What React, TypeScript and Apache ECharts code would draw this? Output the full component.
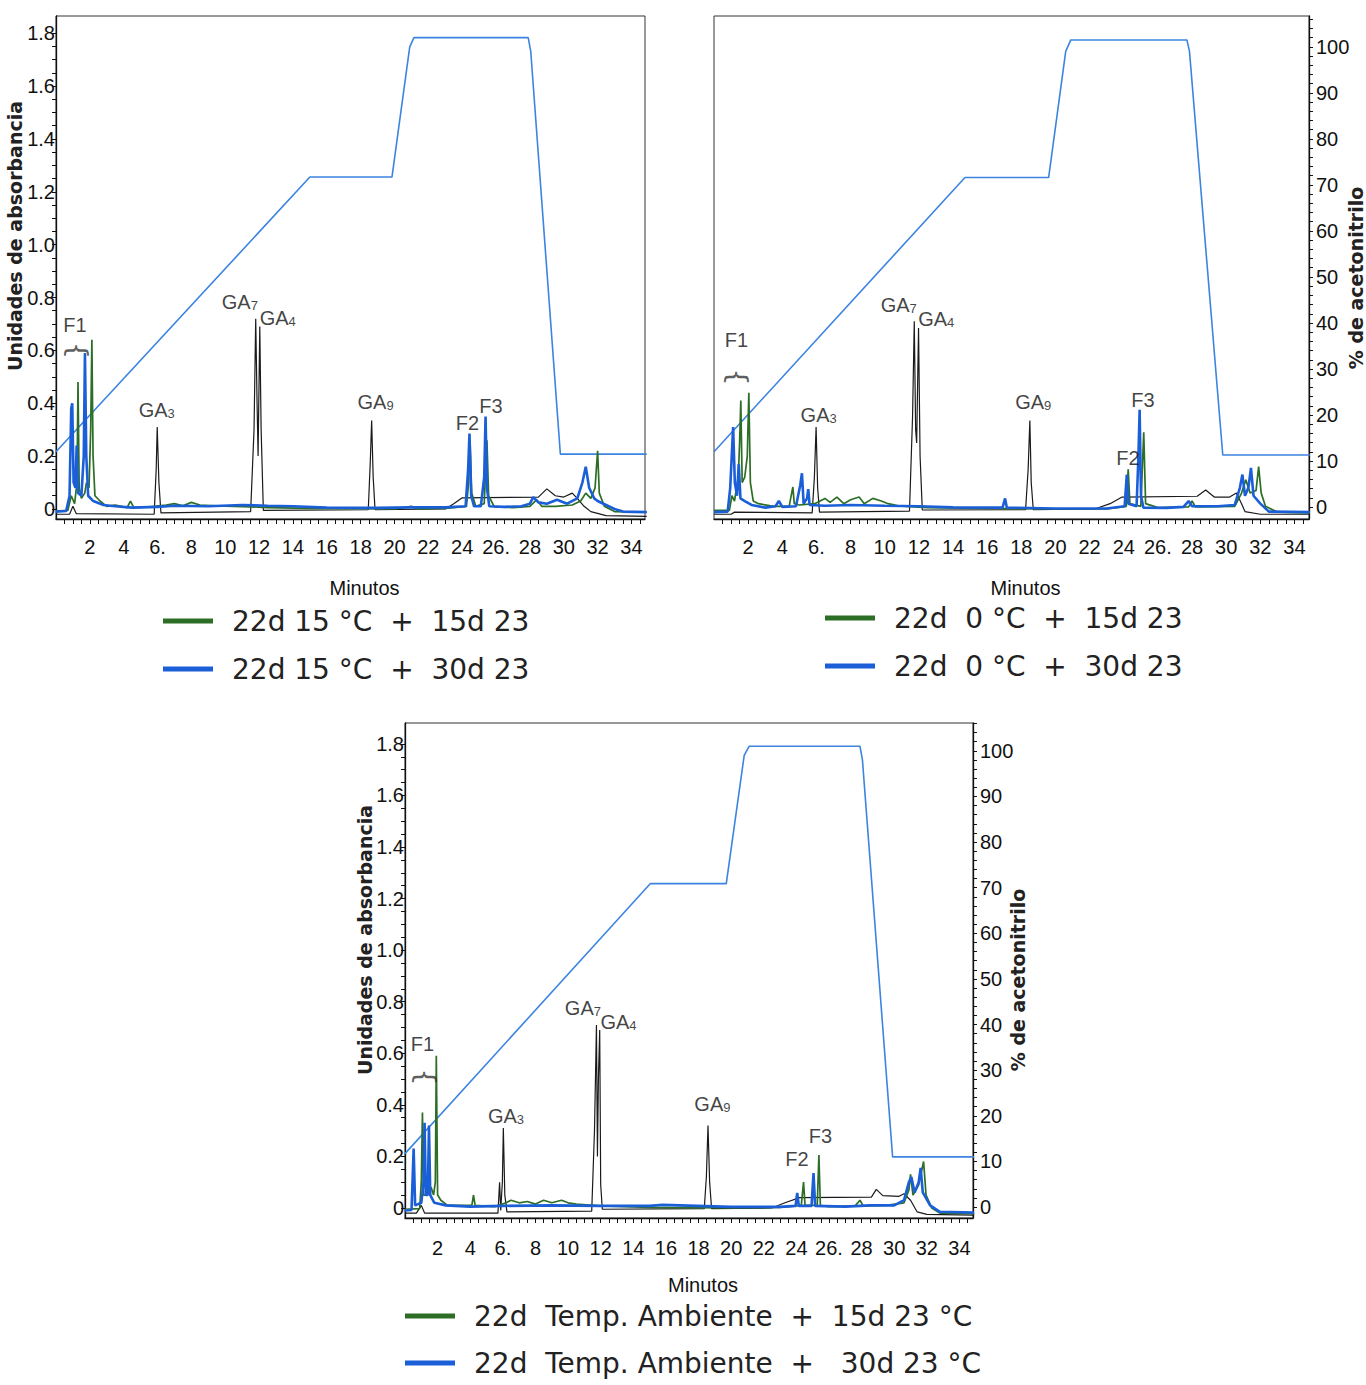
import React, { useEffect, useRef } from 'react';
import * as echarts from 'echarts';

const NARROW = "'Liberation Sans Narrow', 'Arial Narrow', 'Liberation Sans', sans-serif";
const WIDE = "'DejaVu Sans', 'Liberation Sans', sans-serif";

// ---- axis ticks / labels ----
const X_TICKS = [2, 4, 6, 8, 10, 12, 14, 16, 18, 20, 22, 24, 26, 28, 30, 32, 34];
const X_TICK_LABELS = ['2', '4', '6.', '8', '10', '12', '14', '16', '18', '20', '22', '24', '26.', '28', '30', '32', '34'];
const ABS_TICKS = [0, 0.2, 0.4, 0.6, 0.8, 1.0, 1.2, 1.4, 1.6, 1.8];
const ABS_TICK_LABELS = ['0', '0.2', '0.4', '0.6', '0.8', '1.0', '1.2', '1.4', '1.6', '1.8'];
const ACN_TICKS = [0, 10, 20, 30, 40, 50, 60, 70, 80, 90, 100];
const ACN_TICK_LABELS = ['0', '10', '20', '30', '40', '50', '60', '70', '80', '90', '100'];
const X_MINOR = Array.from({ length: 69 }, (_, i) => (i + 1) * 0.5);
const ABS_MINOR = Array.from({ length: 37 }, (_, i) => Math.round(i * 5) / 100);
const ACN_MINOR = Array.from({ length: 54 }, (_, i) => i * 2);

// ---- legend names ----
const TL_NAMES = ['22d 15 °C  +  15d 23', '22d 15 °C  +  30d 23'];
const TR_NAMES = ['22d  0 °C  +  15d 23', '22d  0 °C  +  30d 23'];
const BT_NAMES = ['22d  Temp. Ambiente  +  15d 23 °C', '22d  Temp. Ambiente  +   30d 23 °C'];

// ---- gradient (% acetonitrilo) ----
const TL_GRAD = [[0, 12], [15.0, 71.7], [19.85, 71.7], [20.9, 100], [21.15, 102], [27.9, 102], [28.05, 99], [29.8, 11.5], [34.9, 11.5]];
const TR_GRAD = [[0, 12], [14.7, 71.6], [19.6, 71.6], [20.6, 99], [20.9, 101.5], [27.7, 101.5], [27.85, 99], [29.8, 11.3], [34.9, 11.3]];
const BT_GRAD = [[0, 11.7], [15.05, 70.9], [19.7, 70.9], [20.8, 99], [21.1, 101], [27.9, 101], [28.05, 98], [29.9, 11], [34.9, 11]];

// ---- top-left: 22d 15 °C ----
const TL_STD = [[0, -0.02], [0.8, -0.02], [1.0, 0.01], [1.2, -0.018], [5.8, -0.02], [5.92, 0.15], [5.98, 0.31], [6.08, 0.1], [6.2, -0.015], [11.5, -0.01], [11.7, 0.3], [11.8, 0.72], [11.88, 0.4], [11.94, 0.2], [12.04, 0.69], [12.12, 0.3], [12.25, -0.005], [18.45, -0.003], [18.57, 0.18], [18.65, 0.335], [18.74, 0.12], [18.85, -0.003], [23.0, 0.0], [23.5, 0.02], [24.0, 0.042], [28.5, 0.045], [29.0, 0.076], [29.5, 0.05], [30.0, 0.045], [30.5, 0.06], [30.8, 0.04], [31.2, 0.01], [31.6, -0.01], [32.5, -0.025], [34.9, -0.028]];
const TL_15 = [[0, -0.008], [0.7, -0.005], [0.9, 0.05], [1.1, 0.02], [1.24, 0.1], [1.3, 0.48], [1.37, 0.08], [1.5, 0.04], [1.7, 0.06], [1.8, 0.1], [1.95, 0.08], [2.05, 0.3], [2.12, 0.64], [2.19, 0.2], [2.3, 0.05], [2.6, 0.03], [3.0, 0.01], [3.5, 0.015], [4.2, 0.005], [4.4, 0.03], [4.6, 0.005], [5.5, 0.008], [6.5, 0.015], [7.0, 0.02], [7.5, 0.012], [8.0, 0.025], [8.5, 0.015], [9.5, 0.012], [10.5, 0.01], [11.5, 0.008], [12.5, 0.005], [15, 0.002], [20, 0.0], [21, 0.01], [21.3, 0.0], [23, 0.002], [24.25, 0.01], [24.38, 0.1], [24.47, 0.24], [24.56, 0.06], [24.8, 0.01], [25.3, 0.02], [25.46, 0.26], [25.56, 0.05], [25.9, 0.008], [27, 0.005], [28, 0.01], [28.4, 0.035], [28.7, 0.01], [29.5, 0.01], [30.5, 0.015], [31.0, 0.03], [31.3, 0.06], [31.6, 0.04], [31.85, 0.08], [32.0, 0.22], [32.1, 0.06], [32.4, 0.01], [33, -0.01], [34.9, -0.012]];
const TL_30 = [[0, -0.01], [0.6, -0.008], [0.8, 0.05], [0.9, 0.38], [0.96, 0.4], [1.04, 0.1], [1.15, 0.08], [1.22, 0.24], [1.3, 0.06], [1.5, 0.05], [1.64, 0.2], [1.71, 0.59], [1.79, 0.2], [1.9, 0.05], [2.2, 0.03], [2.8, 0.015], [3.5, 0.01], [4.5, 0.005], [6, 0.008], [7, 0.012], [9, 0.01], [11, 0.015], [12.5, 0.012], [14, 0.01], [16, 0.005], [19, 0.004], [21, 0.006], [23, 0.006], [24.2, 0.01], [24.35, 0.15], [24.43, 0.285], [24.53, 0.05], [24.7, 0.01], [25.1, 0.01], [25.3, 0.12], [25.38, 0.35], [25.46, 0.08], [25.6, 0.01], [26.5, 0.008], [27.5, 0.01], [28.0, 0.02], [28.2, 0.045], [28.5, 0.025], [29.0, 0.02], [29.6, 0.035], [30.2, 0.02], [30.8, 0.04], [31.1, 0.1], [31.3, 0.16], [31.5, 0.08], [31.8, 0.04], [32.0, 0.03], [32.5, 0.015], [33.0, 0.0], [33.5, -0.01], [34.9, -0.012]];
const TL_NOTES = [['F1', 1.12, 0.696], ['brace', 1.1, 0.6], ['GA_3', 5.95, 0.374], ['GA_7', 10.86, 0.783], ['GA_4', 13.1, 0.722], ['GA_9', 18.88, 0.405], ['F2', 24.31, 0.325], ['F3', 25.7, 0.39]];

// ---- top-right: 22d 0 °C ----
const TR_STD = [[0, -0.02], [1.0, -0.02], [1.2, -0.012], [5.75, -0.015], [5.88, 0.12], [5.98, 0.31], [6.07, 0.08], [6.18, -0.012], [11.45, -0.008], [11.63, 0.35], [11.73, 0.71], [11.81, 0.3], [11.87, 0.25], [11.98, 0.685], [12.07, 0.2], [12.2, -0.004], [18.25, -0.003], [18.4, 0.15], [18.5, 0.335], [18.58, 0.1], [18.7, -0.003], [22.3, 0.0], [23.2, 0.02], [23.9, 0.045], [28.3, 0.048], [28.8, 0.072], [29.3, 0.045], [30.2, 0.045], [30.6, 0.06], [30.9, 0.02], [31.1, -0.01], [32, -0.02], [34.9, -0.02]];
const TR_15 = [[0, -0.005], [0.9, -0.005], [1.05, 0.05], [1.2, 0.03], [1.42, 0.12], [1.5, 0.25], [1.57, 0.41], [1.65, 0.1], [1.8, 0.12], [1.95, 0.2], [2.04, 0.44], [2.13, 0.1], [2.3, 0.03], [2.6, 0.02], [3.5, 0.01], [4.4, 0.01], [4.55, 0.06], [4.62, 0.083], [4.7, 0.02], [5.0, 0.015], [5.9, 0.02], [6.5, 0.04], [6.8, 0.025], [7.2, 0.045], [7.6, 0.02], [8.0, 0.035], [8.5, 0.045], [8.8, 0.02], [9.3, 0.04], [9.8, 0.03], [10.2, 0.02], [10.8, 0.012], [12.5, 0.005], [16, 0.002], [20, 0.0], [23, 0.0], [24.15, 0.01], [24.26, 0.15], [24.36, 0.02], [25.0, 0.01], [25.17, 0.29], [25.28, 0.02], [26, 0.005], [27.8, 0.008], [28.0, 0.03], [28.2, 0.008], [30.5, 0.01], [30.9, 0.06], [31.15, 0.11], [31.4, 0.06], [31.75, 0.07], [31.9, 0.16], [32.05, 0.06], [32.3, 0.01], [33, -0.012], [34.9, -0.015]];
const TR_30 = [[0, -0.012], [0.8, -0.01], [0.95, 0.08], [1.12, 0.31], [1.22, 0.1], [1.35, 0.05], [1.45, 0.17], [1.55, 0.04], [1.8, 0.03], [2.2, 0.015], [3.0, 0.005], [3.6, 0.01], [3.8, 0.03], [4.0, 0.008], [4.8, 0.01], [5.05, 0.09], [5.15, 0.135], [5.25, 0.02], [5.45, 0.04], [5.52, 0.075], [5.6, 0.015], [6.5, 0.012], [8, 0.015], [10, 0.012], [12, 0.01], [14, 0.006], [16.9, 0.005], [17.05, 0.04], [17.15, 0.005], [20, 0.002], [23, 0.002], [24.05, 0.01], [24.18, 0.13], [24.27, 0.02], [24.75, 0.01], [24.86, 0.2], [24.93, 0.375], [25.01, 0.05], [25.15, 0.005], [26.5, 0.004], [27.5, 0.008], [27.8, 0.03], [28.0, 0.01], [29.5, 0.01], [30.5, 0.015], [30.8, 0.08], [30.95, 0.13], [31.1, 0.05], [31.3, 0.08], [31.45, 0.155], [31.6, 0.05], [32, 0.02], [32.5, -0.01], [34.9, -0.012]];
const TR_NOTES = [['F1', 1.32, 0.64], ['brace', 1.18, 0.5], ['GA_3', 6.13, 0.355], ['GA_7', 10.82, 0.77], ['GA_4', 13.02, 0.72], ['GA_9', 18.7, 0.405], ['F2', 24.24, 0.193], ['F3', 25.12, 0.412]];

// ---- bottom: 22d Temp. Ambiente ----
const BT_STD = [[0, -0.02], [0.7, -0.02], [1.0, 0.01], [1.2, -0.02], [5.7, -0.02], [5.8, 0.1], [5.87, -0.01], [5.97, 0.1], [6.03, 0.31], [6.12, 0.05], [6.25, -0.015], [11.45, -0.012], [11.62, 0.3], [11.74, 0.71], [11.8, 0.2], [11.86, 0.5], [11.94, 0.69], [12.0, 0.09], [12.1, -0.005], [18.35, -0.003], [18.48, 0.12], [18.58, 0.32], [18.68, 0.1], [18.8, -0.003], [22.5, 0.0], [23.3, 0.02], [24.2, 0.04], [28.6, 0.042], [28.9, 0.072], [29.3, 0.048], [30.3, 0.045], [30.6, 0.055], [31.0, 0.03], [31.4, -0.015], [32, -0.025], [34.9, -0.028]];
const BT_15 = [[0, -0.005], [0.9, -0.003], [1.0, 0.1], [1.07, 0.37], [1.14, 0.05], [1.3, 0.05], [1.6, 0.08], [1.75, 0.05], [1.86, 0.1], [1.92, 0.59], [2.0, 0.05], [2.2, 0.03], [2.6, 0.01], [4.1, 0.01], [4.2, 0.05], [4.3, 0.01], [5.5, 0.005], [6.2, 0.02], [6.5, 0.03], [7, 0.02], [7.5, 0.025], [8, 0.015], [8.5, 0.03], [9, 0.02], [9.6, 0.03], [10, 0.02], [10.5, 0.015], [12, 0.008], [15, 0.002], [20, 0.0], [23, 0.002], [24.3, 0.01], [24.44, 0.1], [24.53, 0.01], [25.28, 0.01], [25.38, 0.205], [25.47, 0.01], [26, 0.005], [27.6, 0.008], [27.9, 0.03], [28.1, 0.008], [29.5, 0.01], [30.6, 0.02], [30.9, 0.07], [31.0, 0.13], [31.15, 0.05], [31.5, 0.09], [31.8, 0.18], [31.95, 0.05], [32.3, 0.0], [32.8, -0.02], [34.9, -0.022]];
const BT_30 = [[0, -0.01], [0.4, -0.008], [0.53, 0.23], [0.62, 0.01], [1.0, 0.02], [1.14, 0.1], [1.2, 0.33], [1.28, 0.05], [1.4, 0.05], [1.47, 0.32], [1.55, 0.05], [1.8, 0.02], [2.5, 0.01], [4, 0.005], [6, 0.008], [9, 0.01], [12, 0.008], [15, 0.008], [15.8, 0.012], [20, 0.004], [23, 0.004], [23.95, 0.008], [24.05, 0.058], [24.15, 0.008], [24.93, 0.008], [25.05, 0.135], [25.15, 0.008], [27, 0.005], [28.5, 0.01], [30, 0.01], [30.6, 0.03], [30.9, 0.1], [31.05, 0.12], [31.25, 0.06], [31.5, 0.1], [31.62, 0.155], [31.75, 0.06], [32.2, 0.01], [32.8, -0.015], [34.9, -0.018]];
const BT_NOTES = [['F1', 1.07, 0.636], ['brace', 1.1, 0.508], ['GA_3', 6.19, 0.357], ['GA_7', 10.91, 0.776], ['GA_4', 13.09, 0.72], ['GA_9', 18.85, 0.403], ['F2', 24.03, 0.19], ['F3', 25.48, 0.28]];

const C_GREEN = '#2c6e25';
const C_BLUE = '#1b5fd8';
const C_GRAD = '#3d84e0';
const C_STD = '#1a1a1a';

const PANELS = [
  {
    grid: { left: 56, top: 16, width: 589, height: 503 }, x: [0, 34.8], abs: [-0.038, 1.865], acn: [-2.6, 106.7],
    showLeft: true, showRight: false, std: TL_STD, s15: TL_15, s30: TL_30, grad: TL_GRAD, notes: TL_NOTES, names: TL_NAMES,
    legend: { left: 163, top: 604, gap: 14 }, labelMargin: 18, nameGap: 59,
  },
  {
    grid: { left: 714, top: 16, width: 595, height: 503 }, x: [0, 34.85], abs: [-0.038, 1.865], acn: [-2.6, 106.7],
    showLeft: false, showRight: true, std: TR_STD, s15: TR_15, s30: TR_30, grad: TR_GRAD, notes: TR_NOTES, names: TR_NAMES,
    legend: { left: 825, top: 601, gap: 14 }, labelMargin: 18, nameGap: 59,
  },
  {
    grid: { left: 405, top: 723, width: 568, height: 495 }, x: [0, 34.83], abs: [-0.039, 1.881], acn: [-2.41, 106.1],
    showLeft: true, showRight: true, std: BT_STD, s15: BT_15, s30: BT_30, grad: BT_GRAD, notes: BT_NOTES, names: BT_NAMES,
    legend: { left: 405, top: 1299, gap: 13 }, labelMargin: 20, nameGap: 57,
  },
];

function pick(values: number[], labels: string[], v: number) {
  for (let i = 0; i < values.length; i++) if (Math.abs(values[i] - v) < 1e-6) return labels[i];
  return '';
}

function noteText(name: string) {
  if (name === 'brace') return '}';
  if (name.indexOf('_') >= 0) {
    const [a, b] = name.split('_');
    return `{m|${a}}{s|${b}}`;
  }
  return `{m|${name}}`;
}

function buildOption() {
  const grid: any[] = [];
  const xAxis: any[] = [];
  const yAxis: any[] = [];
  const series: any[] = [];
  const legend: any[] = [];
  const axisLineStyle = { color: '#111', width: 1.3 };
  const tickFont = { fontFamily: NARROW, fontSize: 20, color: '#111' };

  PANELS.forEach((p, i) => {
    grid.push({ ...p.grid, show: true, borderColor: '#333', borderWidth: 1, backgroundColor: 'transparent', outerBoundsMode: 'none', containLabel: false });
    xAxis.push({
      type: 'value', gridIndex: i, min: p.x[0], max: p.x[1],
      name: 'Minutos', nameLocation: 'middle', nameGap: p.nameGap,
      nameTextStyle: { fontFamily: NARROW, fontSize: 20, color: '#111', padding: [0, 0, 0, 28] },
      axisLine: { show: true, onZero: false, lineStyle: axisLineStyle },
      axisTick: { show: true, customValues: X_MINOR, length: 5, lineStyle: { color: '#111', width: 1 } },
      axisLabel: {
        customValues: X_TICKS, margin: p.labelMargin, ...tickFont,
        formatter: (v: number) => pick(X_TICKS, X_TICK_LABELS, v),
      },
      splitLine: { show: false },
    });
    const li = yAxis.length;
    yAxis.push({
      type: 'value', gridIndex: i, position: 'left', min: p.abs[0], max: p.abs[1], show: p.showLeft,
      axisLine: { show: true, onZero: false, lineStyle: axisLineStyle },
      axisTick: { show: true, customValues: ABS_MINOR, length: 4, lineStyle: { color: '#111', width: 1 } },
      axisLabel: {
        customValues: ABS_TICKS, margin: 1, ...tickFont,
        formatter: (v: number) => pick(ABS_TICKS, ABS_TICK_LABELS, v),
      },
      splitLine: { show: false },
    });
    const ri = yAxis.length;
    yAxis.push({
      type: 'value', gridIndex: i, position: 'right', min: p.acn[0], max: p.acn[1], show: p.showRight,
      axisLine: { show: true, onZero: false, lineStyle: axisLineStyle },
      axisTick: { show: true, customValues: ACN_MINOR.filter((v) => v <= p.acn[1]), length: 4, lineStyle: { color: '#111', width: 1 } },
      axisLabel: {
        customValues: ACN_TICKS, margin: 7, ...tickFont,
        formatter: (v: number) => pick(ACN_TICKS, ACN_TICK_LABELS, v),
      },
      splitLine: { show: false },
    });

    const base = { type: 'line', xAxisIndex: i, showSymbol: false, symbol: 'none', silent: true, animation: false, clip: true };
    series.push({ ...base, name: `gradiente-${i}`, yAxisIndex: ri, data: p.grad, color: C_GRAD, lineStyle: { color: C_GRAD, width: 1.6 }, z: 2 });
    series.push({ ...base, name: `estándar-${i}`, yAxisIndex: li, data: p.std, color: C_STD, lineStyle: { color: C_STD, width: 1.2 }, z: 3 });
    series.push({ ...base, name: p.names[0], yAxisIndex: li, data: p.s15, color: C_GREEN, lineStyle: { color: C_GREEN, width: 1.7 }, z: 4 });
    series.push({ ...base, name: p.names[1], yAxisIndex: li, data: p.s30, color: C_BLUE, lineStyle: { color: C_BLUE, width: 2.6 }, z: 5 });
    series.push({
      type: 'scatter', name: `notas-${i}`, xAxisIndex: i, yAxisIndex: li, symbolSize: 1, silent: true, z: 10,
      itemStyle: { color: 'rgba(0,0,0,0)' },
      data: p.notes.map(([n, t, v]) => ({
        value: [t, v], name: n,
        label: n === 'brace' ? { rotate: 90, fontSize: 27, fontFamily: "'DejaVu Sans', sans-serif", fontWeight: 'normal', color: '#333' } : undefined,
      })),
      label: {
        show: true, position: 'inside', fontFamily: NARROW, fontSize: 20, color: '#111',
        formatter: (q: any) => noteText(q.name),
        rich: {
          m: { fontFamily: NARROW, fontSize: 20, color: '#111', lineHeight: 20, verticalAlign: 'top' },
          s: { fontFamily: NARROW, fontSize: 13, color: '#111', lineHeight: 13, verticalAlign: 'bottom', padding: [11, 0, 0, 0] },
        },
      },
    });

    legend.push({
      data: p.names, orient: 'vertical', left: p.legend.left, top: p.legend.top, itemGap: p.legend.gap,
      icon: 'rect', itemWidth: 50, itemHeight: 5, padding: 0, selectedMode: false,
      textStyle: { fontFamily: WIDE, fontSize: 28, color: '#222', lineHeight: 34, padding: [0, 0, 0, 14] },
    });
  });

  const titleStyle = (text: string, size: number) => ({ text, fontFamily: WIDE, fontWeight: 'bold', fontSize: size, fill: '#222', align: 'center', verticalAlign: 'middle' });
  const graphic = [
    { type: 'text', x: 15, y: 236, rotation: Math.PI / 2, style: titleStyle('Unidades de absorbancia', 19) },
    { type: 'text', x: 365, y: 940, rotation: Math.PI / 2, style: titleStyle('Unidades de absorbancia', 19) },
    { type: 'text', x: 1356, y: 278, rotation: Math.PI / 2, style: titleStyle('% de acetonitrilo', 19) },
    { type: 'text', x: 1018, y: 980, rotation: Math.PI / 2, style: titleStyle('% de acetonitrilo', 19) },
  ];

  return { animation: false, backgroundColor: '#ffffff', grid, xAxis, yAxis, series, legend, graphic };
}

export default function App() {
  const ref = useRef<HTMLDivElement>(null);
  useEffect(() => {
    if (!ref.current) return;
    const chart = echarts.init(ref.current, undefined, { renderer: 'svg' });
    chart.setOption(buildOption() as any);
    return () => chart.dispose();
  }, []);
  return <div ref={ref} style={{ position: 'absolute', left: 0, top: 0, width: 1366, height: 1385, background: '#fff' }} />;
}
